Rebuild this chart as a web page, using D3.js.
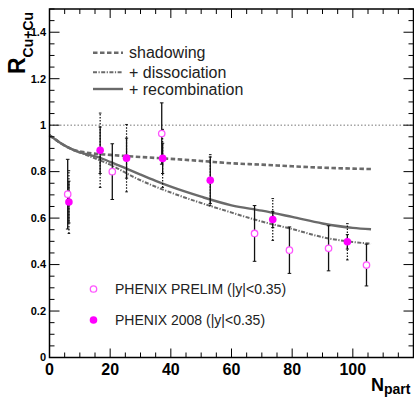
<!DOCTYPE html>
<html>
<head>
<meta charset="UTF-8">
<title>R_CuCu vs Npart</title>
<script src="https://d3js.org/d3.v7.min.js"></script>
<style>
  body { margin: 0; background: #fff; }
  svg text { font-family: "Liberation Sans", Arial, Helvetica, sans-serif; }
</style>
</head>
<body>
<svg width="414" height="397"></svg>
<script>
// ---- data ----
const xTickLabels = [0, 20, 40, 60, 80, 100];
const yTickLabels = [0, 0.2, 0.4, 0.6, 0.8, 1, 1.2, 1.4];

// model curves
const shadowNpart = [0, 4, 8, 12, 20, 30, 40, 50, 60, 70, 80, 90, 100, 106];
const shadowR     = [0.957, 0.92, 0.893, 0.882, 0.872, 0.863, 0.855, 0.846, 0.836, 0.83, 0.823, 0.817, 0.813, 0.811];

const dissNpart = [0, 4, 8, 12, 16, 20, 28, 35, 40, 50, 58, 70, 80, 90, 100, 106];
const dissR     = [0.957, 0.92, 0.893, 0.872, 0.852, 0.83, 0.775, 0.735, 0.71, 0.665, 0.632, 0.585, 0.553, 0.518, 0.497, 0.49];

const recoNpart = [0, 4, 8, 12, 16, 20, 25, 30, 35, 40, 50, 60, 70, 80, 90, 100, 106];
const recoR     = [0.957, 0.92, 0.893, 0.876, 0.862, 0.842, 0.815, 0.787, 0.76, 0.735, 0.692, 0.655, 0.632, 0.605, 0.577, 0.558, 0.552];

// PHENIX preliminary (open circles)
const prelimNpart = [6.0, 20.7, 37.0, 67.6, 79.1, 92.0, 104.5];
const prelimR     = [0.703, 0.80, 0.964, 0.534, 0.462, 0.47, 0.398];
const prelimErr   = [0.15, 0.12, 0.132, 0.12, 0.10, 0.097, 0.09];

// PHENIX 2008 (filled circles)
const phx08Npart = [6.4, 16.7, 25.4, 37.3, 53.0, 73.6, 98.2];
const phx08R     = [0.669, 0.892, 0.858, 0.857, 0.763, 0.594, 0.498];
const phx08Stat  = [0.09, 0.10, 0.086, 0.065, 0.10, 0.035, 0.031];
const phx08Syst  = [0.135, 0.16, 0.145, 0.125, 0.11, 0.09, 0.078];

const legendLines = ["shadowing", "+ dissociation", "+ recombination"];
const legendPoints = ["PHENIX PRELIM (|y|<0.35)", "PHENIX 2008 (|y|<0.35)"];

// ---- layout ----
const svg = d3.select("svg");
const mLeft = 49.5, mRight = 413.5, mTop = 9, mBottom = 357.5;
const x = d3.scaleLinear().domain([0, 120]).range([mLeft, mRight]);
const y = d3.scaleLinear().domain([0, 1.5]).range([mBottom, mTop]);

const curveGray = "#6a6a6a";
const magenta = "#ff00ff";

// reference line at 1
svg.append("line")
  .attr("x1", x(0)).attr("x2", x(120)).attr("y1", y(1)).attr("y2", y(1))
  .attr("stroke", "#777").attr("stroke-width", 1).attr("stroke-dasharray", "1.5,2");

// model curves
const line = d3.line().x(d => x(d[0])).y(d => y(d[1])).curve(d3.curveMonotoneX);
const curves = [
  { n: shadowNpart, r: shadowR, dash: "4.5,2.5", w: 2.6 },
  { n: dissNpart, r: dissR, dash: "4,1.5,1.2,1.5", w: 2 },
  { n: recoNpart, r: recoR, dash: null, w: 2.4 }
];
curves.forEach(c => {
  svg.append("path")
    .datum(c.n.map((v, i) => [v, c.r[i]]))
    .attr("d", line)
    .attr("fill", "none")
    .attr("stroke", curveGray)
    .attr("stroke-width", c.w)
    .attr("stroke-dasharray", c.dash);
});

// error bars
function bar(cx, lo, hi, dotted, cap) {
  const g = svg.append("g")
    .attr("stroke", "#111").attr("stroke-width", dotted ? 1.2 : 1.3);
  g.append("line").attr("x1", cx).attr("x2", cx).attr("y1", y(lo)).attr("y2", y(hi))
    .attr("stroke-dasharray", dotted ? "1.5,1.5" : null);
  [lo, hi].forEach(v => {
    g.append("line").attr("x1", cx - cap).attr("x2", cx + cap)
      .attr("y1", y(v)).attr("y2", y(v)).attr("stroke-width", 1);
  });
}

phx08Npart.forEach((n, i) => {
  bar(x(n), phx08R[i] - phx08Syst[i], phx08R[i] + phx08Syst[i], true, 1.3);
  bar(x(n), phx08R[i] - phx08Stat[i], phx08R[i] + phx08Stat[i], false, 1.6);
});
prelimNpart.forEach((n, i) => {
  bar(x(n), prelimR[i] - prelimErr[i], prelimR[i] + prelimErr[i], false, 1.8);
});

// markers
svg.selectAll("circle.prelim")
  .data(prelimNpart)
  .join("circle")
  .attr("class", "prelim")
  .attr("cx", d => x(d))
  .attr("cy", (d, i) => y(prelimR[i]))
  .attr("r", 3.2)
  .attr("fill", "#fff")
  .attr("stroke", "#ff55ff")
  .attr("stroke-width", 1.3);

svg.selectAll("circle.phx08")
  .data(phx08Npart)
  .join("circle")
  .attr("class", "phx08")
  .attr("cx", d => x(d))
  .attr("cy", (d, i) => y(phx08R[i]))
  .attr("r", 3.8)
  .attr("fill", magenta);

// ---- axes (ticks inside, mirrored) ----
const xMinor = d3.range(0, 121, 5).filter(v => v % 20 !== 0);
const yMinor = d3.range(0, 31).map(k => k * 0.05).filter((v, k) => k % 4 !== 0);
const yMajor = d3.range(0, 8).map(k => k * 0.2);

const axisG = svg.append("g").attr("stroke", "#000");
function ticksH(vals, len, atY, dir) {
  vals.forEach(v => axisG.append("line")
    .attr("x1", x(v)).attr("x2", x(v)).attr("y1", atY).attr("y2", atY + dir * len)
    .attr("stroke-width", 1));
}
function ticksV(vals, len, atX, dir) {
  vals.forEach(v => axisG.append("line")
    .attr("x1", atX).attr("x2", atX + dir * len).attr("y1", y(v)).attr("y2", y(v))
    .attr("stroke-width", 1));
}
ticksH(xTickLabels, 9, mBottom, -1);
ticksH(xMinor, 5, mBottom, -1);
ticksH(xTickLabels.concat([120]), 9, mTop, 1);
ticksH(xMinor, 5, mTop, 1);
ticksV(yMajor, 10, mLeft, 1);
ticksV(yMinor, 5, mLeft, 1);
ticksV(yMajor, 10, mRight, -1);
ticksV(yMinor, 5, mRight, -1);

svg.append("rect")
  .attr("x", mLeft).attr("y", mTop).attr("width", mRight - mLeft).attr("height", mBottom - mTop)
  .attr("fill", "none").attr("stroke", "#000").attr("stroke-width", 1.5);

// tick labels
svg.selectAll("text.xt")
  .data(xTickLabels)
  .join("text")
  .attr("class", "xt")
  .attr("x", d => x(d))
  .attr("y", 374.5)
  .attr("text-anchor", "middle")
  .attr("font-size", 16)
  .attr("font-weight", "bold")
  .text(d => d);

svg.selectAll("text.yt")
  .data(yTickLabels)
  .join("text")
  .attr("class", "yt")
  .attr("x", 46)
  .attr("y", d => y(d) + 3.8)
  .attr("text-anchor", "end")
  .attr("font-size", 11)
  .attr("font-weight", "bold")
  .text(d => d);

// axis titles
const yt = svg.append("text")
  .attr("transform", "translate(25,74) rotate(-90)")
  .attr("font-weight", "bold");
yt.append("tspan").attr("font-size", 23).text("R");
yt.append("tspan").attr("font-size", 14).attr("dy", 8).text("Cu+Cu");

const xt = svg.append("text")
  .attr("x", 371).attr("y", 391)
  .attr("font-weight", "bold");
xt.append("tspan").attr("font-size", 18).text("N");
xt.append("tspan").attr("font-size", 14).attr("dy", 3).text("part");

// ---- legends ----
const legY = [52.7, 72.3, 89];
legendLines.forEach((t, i) => {
  svg.append("line")
    .attr("x1", 93).attr("x2", 123).attr("y1", legY[i]).attr("y2", legY[i])
    .attr("stroke", curveGray)
    .attr("stroke-width", curves[i].w)
    .attr("stroke-dasharray", curves[i].dash);
  svg.append("text")
    .attr("x", 129).attr("y", legY[i] + 5.5)
    .attr("font-size", 16)
    .attr("fill", "#222")
    .text(t);
});

const ptY = [289, 320];
svg.append("circle").attr("cx", 93.5).attr("cy", ptY[0]).attr("r", 3.2)
  .attr("fill", "#fff").attr("stroke", "#ff55ff").attr("stroke-width", 1.3);
svg.append("circle").attr("cx", 93.5).attr("cy", ptY[1]).attr("r", 3.8)
  .attr("fill", magenta);
legendPoints.forEach((t, i) => {
  svg.append("text")
    .attr("x", 115).attr("y", ptY[i] + 5)
    .attr("font-size", 14)
    .attr("fill", "#222")
    .text(t);
});
</script>
</body>
</html>
